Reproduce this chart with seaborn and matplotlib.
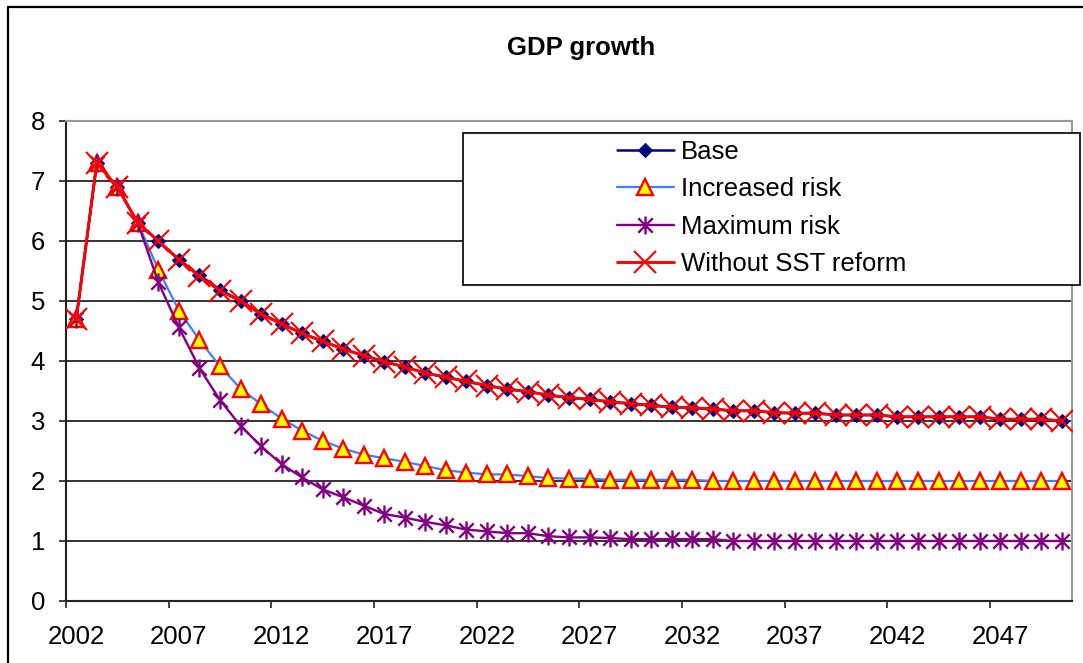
import matplotlib
matplotlib.use("Agg")
import matplotlib.pyplot as plt
from matplotlib.path import Path
from matplotlib.patches import Rectangle
import seaborn as sns

# ---- data -------------------------------------------------------------
years = list(range(2002, 2051))

base = [4.7, 7.3, 6.9, 6.3, 6.0, 5.69, 5.43, 5.19, 5.0, 4.79,
        4.62, 4.46, 4.33, 4.2, 4.09, 3.99, 3.9, 3.8, 3.73, 3.66,
        3.59, 3.53, 3.49, 3.43, 3.39, 3.36, 3.32, 3.29, 3.26, 3.23,
        3.22, 3.2, 3.17, 3.17, 3.14, 3.13, 3.13, 3.1, 3.1, 3.1,
        3.07, 3.07, 3.07, 3.07, 3.07, 3.03, 3.03, 3.03, 3.0]

increased_risk = [4.7, 7.3, 6.9, 6.3, 5.52, 4.84, 4.35, 3.91, 3.54, 3.28,
                  3.04, 2.84, 2.67, 2.54, 2.44, 2.38, 2.32, 2.25, 2.18, 2.14,
                  2.11, 2.11, 2.08, 2.05, 2.04, 2.04, 2.02, 2.02, 2.02, 2.02,
                  2.02, 2.0, 2.0, 2.0, 2.0, 2.0, 2.0, 2.0, 2.0, 2.0,
                  2.0, 2.0, 2.0, 2.0, 2.0, 2.0, 2.0, 2.0, 2.0]

maximum_risk = [4.7, 7.3, 6.9, 6.3, 5.31, 4.56, 3.88, 3.35, 2.92, 2.58,
                2.28, 2.06, 1.86, 1.73, 1.59, 1.45, 1.39, 1.32, 1.26, 1.19,
                1.16, 1.13, 1.13, 1.08, 1.06, 1.06, 1.05, 1.03, 1.03, 1.03,
                1.03, 1.03, 1.0, 1.0, 1.0, 1.0, 1.0, 1.0, 1.0, 1.0,
                1.0, 1.0, 1.0, 1.0, 1.0, 1.0, 1.0, 1.0, 1.0]

without_sst = [4.7, 7.3, 6.9, 6.3, 6.0, 5.69, 5.41, 5.17, 5.0, 4.78,
               4.62, 4.46, 4.33, 4.2, 4.09, 3.99, 3.9, 3.8, 3.73, 3.66,
               3.59, 3.53, 3.49, 3.43, 3.39, 3.36, 3.32, 3.29, 3.26, 3.23,
               3.22, 3.2, 3.17, 3.17, 3.14, 3.13, 3.13, 3.1, 3.1, 3.1,
               3.07, 3.07, 3.07, 3.07, 3.07, 3.03, 3.03, 3.03, 3.0]

series_names = ["Base", "Increased risk", "Maximum risk", "Without SST reform"]
title = "GDP growth"
label_years = list(range(2002, 2051, 5))

# ---- style ------------------------------------------------------------
sns.set_theme(style="white")
plt.rcParams["font.family"] = ["Liberation Sans", "DejaVu Sans"]
plt.rcParams["text.color"] = "black"
plt.rcParams["xtick.color"] = "black"
plt.rcParams["ytick.color"] = "black"

W, H = 1083, 663
fig = plt.figure(figsize=(W / 100, H / 100), dpi=100)
ax = fig.add_axes([66 / W, (H - 601) / H, (1072 - 66) / W, (601 - 121) / H])

# six-spoke star marker (x with a vertical bar)
star = Path([(-1, -1), (1, 1), (-1, 1), (1, -1), (0, -1.25), (0, 1.25)],
            [Path.MOVETO, Path.LINETO, Path.MOVETO, Path.LINETO,
             Path.MOVETO, Path.LINETO])

sns.lineplot(x=years, y=base, ax=ax, color="#000080", linewidth=1.8,
             marker="D", markersize=7.5, markerfacecolor="#000080",
             markeredgecolor="#000080", label=series_names[0], zorder=3)
sns.lineplot(x=years, y=increased_risk, ax=ax, color="#3f7fff", linewidth=1.6,
             marker="^", markersize=11.5, markerfacecolor="#ffff00",
             markeredgecolor="#ff0000", markeredgewidth=1.7,
             label=series_names[1], zorder=3)
sns.lineplot(x=years, y=maximum_risk, ax=ax, color="#800080", linewidth=1.7,
             marker=star, markersize=13, markerfacecolor="none",
             markeredgecolor="#800080", markeredgewidth=1.7,
             label=series_names[2], zorder=3)
sns.lineplot(x=years, y=without_sst, ax=ax, color="#ff0000", linewidth=2.1,
             marker="x", markersize=16.5, markeredgecolor="#ff0000",
             markeredgewidth=1.5, label=series_names[3], zorder=4)

# ---- axes -------------------------------------------------------------
ax.set_xlim(2001.5, 2050.5)
ax.set_ylim(0, 8)
ax.set_yticks(range(0, 9))
ax.yaxis.grid(True, color="#222222", linewidth=1.3)
ax.xaxis.grid(False)
ax.set_axisbelow(True)

# category boundaries carry the tick marks, category centres carry the labels
ax.set_xticks([y - 0.5 for y in label_years])
ax.set_xticklabels([])
ax.set_xticks(label_years, minor=True)
ax.set_xticklabels([str(y) for y in label_years], minor=True)
ax.tick_params(axis="x", which="major", direction="out", length=5,
               width=1.3, color="#333333", bottom=True)
ax.tick_params(axis="x", which="minor", length=0, pad=17, labelsize=18.5,
               labelcolor="black")
ax.tick_params(axis="y", direction="out", length=5, width=1.3,
               color="#333333", left=True, pad=10, labelsize=18.5,
               labelcolor="black")

for side in ("left", "bottom"):
    ax.spines[side].set_color("#222222")
    ax.spines[side].set_linewidth(1.5)
for side in ("top", "right"):
    ax.spines[side].set_color("#999999")
    ax.spines[side].set_linewidth(1.5)
ax.set_xlabel("")
ax.set_ylabel("")

# ---- legend: wide box with the entries packed on its right ------------
handles, labels = ax.get_legend_handles_labels()
ax.add_patch(Rectangle((463 / W, 1 - 285 / H), (1080 - 463) / W,
                       (285 - 133) / H, transform=fig.transFigure,
                       facecolor="white", edgecolor="black",
                       linewidth=1.2, zorder=5, clip_on=False))
leg = ax.legend(handles, labels, loc="upper left",
                bbox_to_anchor=(617 / W, 1 - 140 / H),
                bbox_transform=fig.transFigure, frameon=False, fontsize=18.5,
                handlelength=2.2, handletextpad=0.3, labelspacing=0.52,
                borderpad=0, borderaxespad=0)
leg.set_zorder(6)
for txt in leg.get_texts():
    txt.set_color("black")

# ---- title and outer border ------------------------------------------
fig.text(581 / W, 1 - 48 / H, title, ha="center", va="center",
         fontsize=18.5, fontweight="bold", color="black")
fig.patches.append(Rectangle((8 / W, -0.1), 1.2, 1.1 - 7 / H,
                             transform=fig.transFigure, fill=False,
                             edgecolor="black", linewidth=1.6))

fig.savefig("out.png", dpi=100, facecolor="white")
